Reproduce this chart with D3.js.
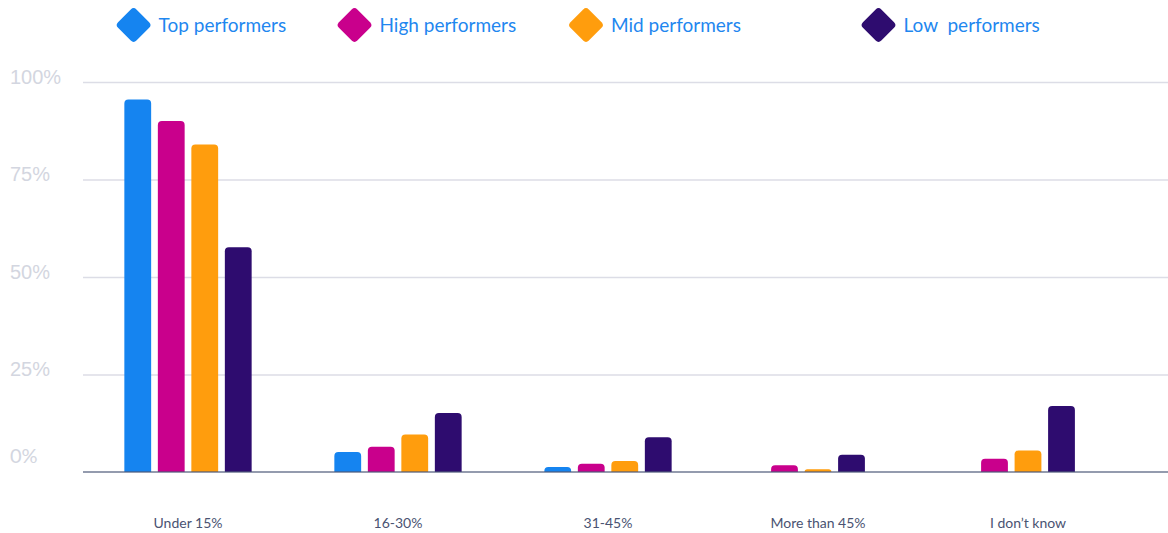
<!DOCTYPE html>
<html><head><meta charset="utf-8">
<script src="https://cdn.jsdelivr.net/npm/d3@7"></script>
<style>
html,body{margin:0;padding:0;background:#fff;}
svg{display:block;font-family:Lato,"Noto Sans",sans-serif;}
</style></head><body>
<svg id="chart" width="1168" height="533"></svg>
<script>
// ---- data ----
const categories = ["Under 15%", "16-30%", "31-45%", "More than 45%", "I don\u2019t know"];
const seriesNames = ["Top performers", "High performers", "Mid performers", "Low  performers"];
const topPerformers  = [95.5, 5.1, 1.3, null, null];
const highPerformers = [90.0, 6.5, 2.1, 1.7, 3.4];
const midPerformers  = [84.0, 9.6, 2.8, 0.7, 5.5];
const lowPerformers  = [57.6, 15.1, 8.9, 4.4, 16.9];
const yTicks = [0, 25, 50, 75, 100];
const seriesColors = ["#1584f0", "#c9008c", "#ff9d0d", "#2e0c6f"];

// ---- layout ----
const W = 1168, H = 533;
const plotLeft = 83, plotRight = 1168, plotTop = 82, plotBottom = 472;
const svg = d3.select("#chart");
const seriesValues = [topPerformers, highPerformers, midPerformers, lowPerformers];

const y = d3.scaleLinear().domain([0, 100]).range([plotBottom, plotTop]);
const x = d3.scaleBand().domain(categories).range([83, 1133]).padding(0);
const color = d3.scaleOrdinal().domain(seriesNames).range(seriesColors);

// grid + y labels
const yAxis = d3.axisLeft(y).tickValues(yTicks.filter(t => t > 0))
  .tickSize(-(plotRight - plotLeft)).tickFormat(d => d + "%");
const gy = svg.append("g").attr("transform", `translate(${plotLeft},0)`).call(yAxis);
gy.select(".domain").remove();
gy.selectAll(".tick line").attr("stroke", "#dcdde6").attr("stroke-width", 1.5);
gy.selectAll(".tick text").attr("x", -plotLeft + 10).attr("text-anchor", "start")
  .attr("dy", "0.05em").attr("fill", "#d3d6e0").attr("font-size", 20);
// 0% label (baseline is the x-axis line)
svg.append("text").attr("x", 10).attr("y", y(0)).attr("dy", "-0.45em")
  .attr("fill", "#d3d6e0").attr("font-size", 20).text(yTicks[0] + "%");

// bars
const bar = (x0, y0, w, h, r) => {
  r = Math.min(r, h, w / 2);
  return `M${x0},${y0 + h}V${y0 + r}A${r},${r} 0 0 1 ${x0 + r},${y0}H${x0 + w - r}A${r},${r} 0 0 1 ${x0 + w},${y0 + r}V${y0 + h}Z`;
};
const slot = 33.5;
categories.forEach((cat, ci) => {
  const present = seriesNames.filter((s, si) => seriesValues[si][ci] != null);
  const inner = d3.scaleBand().domain(present).range([0, present.length * slot])
    .paddingInner(0.2).paddingOuter(0.1);
  const cx = x(cat) + x.bandwidth() / 2 - present.length * slot / 2;
  const g = svg.append("g").attr("transform", `translate(${cx},0)`);
  g.selectAll("path").data(present.map(s => ({s, v: seriesValues[seriesNames.indexOf(s)][ci]})))
    .join("path")
    .attr("fill", d => color(d.s))
    .attr("d", d => bar(inner(d.s), y(d.v), inner.bandwidth(), y(0) - y(d.v), 4));
});

// x axis line
svg.append("line").attr("x1", plotLeft).attr("x2", plotRight).attr("y1", y(0)).attr("y2", y(0))
  .attr("stroke", "#4c5878").attr("stroke-opacity", 0.6).attr("stroke-width", 2.2);

// x labels
svg.append("g").selectAll("text").data(categories).join("text")
  .attr("x", d => x(d) + x.bandwidth() / 2).attr("y", 528)
  .attr("text-anchor", "middle").attr("fill", "#4a5372").attr("font-size", 14)
  .text(d => d);

// legend
const legendX = [133.6, 354.5, 586, 878.5];
const lg = svg.append("g").selectAll("g").data(seriesNames).join("g")
  .attr("transform", (d, i) => `translate(${legendX[i]},25)`);
lg.append("rect").attr("x", -13).attr("y", -13).attr("width", 26).attr("height", 26)
  .attr("rx", 4).attr("transform", "rotate(45)").attr("fill", d => color(d));
lg.append("text").attr("x", 25).attr("dy", "0.35em").attr("font-size", 19)
  .attr("fill", "#1f87ef").style("white-space", "pre").text(d => d);
</script>
</body></html>
